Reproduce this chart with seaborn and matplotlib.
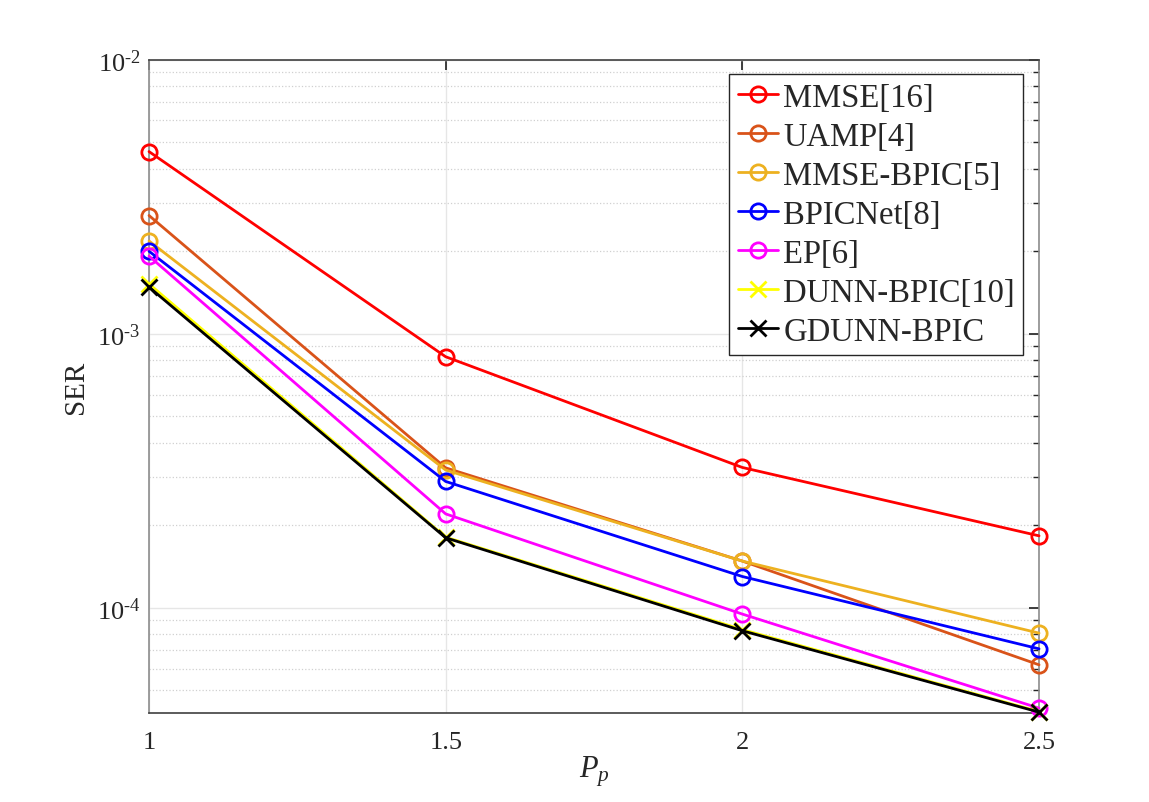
import pandas as pd
import matplotlib
matplotlib.use("Agg")
import matplotlib.pyplot as plt
import matplotlib.ticker as mticker
import seaborn as sns
import math

# Data
pp = [1, 1.5, 2, 2.5]
mmse = [4.62e-3, 8.24e-4, 3.25e-4, 1.83e-4]
uamp = [2.70e-3, 3.24e-4, 1.48e-4, 6.19e-5]
mmse_bpic = [2.18e-3, 3.18e-4, 1.48e-4, 8.08e-5]
bpicnet = [2.00e-3, 2.89e-4, 1.30e-4, 7.08e-5]
ep = [1.92e-3, 2.20e-4, 9.48e-5, 4.30e-5]
dunn_bpic = [1.52e-3, 1.81e-4, 8.32e-5, 4.18e-5]
gdunn_bpic = [1.48e-3, 1.80e-4, 8.24e-5, 4.16e-5]

methods = ['MMSE[16]', 'UAMP[4]', 'MMSE-BPIC[5]', 'BPICNet[8]', 'EP[6]',
           'DUNN-BPIC[10]', 'GDUNN-BPIC']
series = [mmse, uamp, mmse_bpic, bpicnet, ep, dunn_bpic, gdunn_bpic]
colors = ['#ff0000', '#d95319', '#edb120', '#0000ff', '#ff00ff', '#ffff00', '#000000']
markers = ['o', 'o', 'o', 'o', 'o', 'x', 'x']

sns.set_theme(style="white")
plt.rcParams['font.family'] = ['Liberation Serif', 'DejaVu Serif']
plt.rcParams['mathtext.fontset'] = 'custom'
plt.rcParams['mathtext.rm'] = 'Liberation Serif'
plt.rcParams['mathtext.it'] = 'Liberation Serif:italic'

fig = plt.figure(figsize=(11.49, 8.03), dpi=100)
ax = fig.add_axes([0.1297, 0.1105, 0.7746, 0.8139])

for name, vals, c, m in zip(methods, series, colors, markers):
    d = pd.DataFrame({'Pp': pp, 'SER': vals})
    sns.lineplot(data=d, x='Pp', y='SER', color=c, marker=m, label=name,
                 linewidth=2, markersize=13 if m == 'o' else 11,
                 markeredgewidth=2, markeredgecolor=c,
                 markerfacecolor='none', clip_on=False, zorder=3, ax=ax)

ax.set_yscale('log')
ax.set_xlim(1, 2.5)
ax.set_ylim(4.12e-5, 1e-2)
ax.set_xticks([1, 1.5, 2, 2.5])
ax.xaxis.set_major_formatter(mticker.FuncFormatter(lambda v, p: f'{v:g}'))
ax.yaxis.set_major_locator(mticker.LogLocator(base=10, numticks=10))
ax.yaxis.set_major_formatter(mticker.FuncFormatter(
    lambda v, p: r'$\mathregular{10^{\text{-}%d}}$' % round(-math.log10(v))))
ax.yaxis.set_minor_locator(mticker.LogLocator(base=10, subs=range(2, 10), numticks=20))
ax.yaxis.set_minor_formatter(mticker.NullFormatter())

ax.grid(True, which='major', color='#e6e6e6', linewidth=1)
ax.grid(True, which='minor', axis='y', color='#d0d0d0', linestyle=':', linewidth=0.9)
ax.tick_params(which='both', direction='in', top=True, right=True,
               colors='#262626', labelsize=19, length=7)
ax.tick_params(axis='x', pad=13)
ax.tick_params(axis='y', pad=6)
ax.tick_params(which='minor', length=4)
for side in ['left', 'right']:
    ax.spines[side].set_color('#8c8c8c')
for side in ['top', 'bottom']:
    ax.spines[side].set_color('#404040')
for sp in ax.spines.values():
    sp.set_linewidth(1.2)

ax.set_xlabel('$P_p$', fontsize=22, color='#262626', labelpad=0)
ax.set_ylabel('SER', fontsize=21, color='#262626', labelpad=6)

handles, labels = ax.get_legend_handles_labels()
for h in handles:
    h.set_markersize(11)
leg = ax.legend(handles, labels, loc='upper right', bbox_to_anchor=(0.982, 0.978),
                fontsize=23.5, frameon=True, fancybox=False, framealpha=1,
                edgecolor='#262626', handlelength=1.25, handletextpad=0.15,
                labelspacing=0.26, borderpad=0.25, borderaxespad=0)
leg.get_frame().set_linewidth(1.0)
leg.set_zorder(5)

fig.savefig('out.png', dpi=100)
